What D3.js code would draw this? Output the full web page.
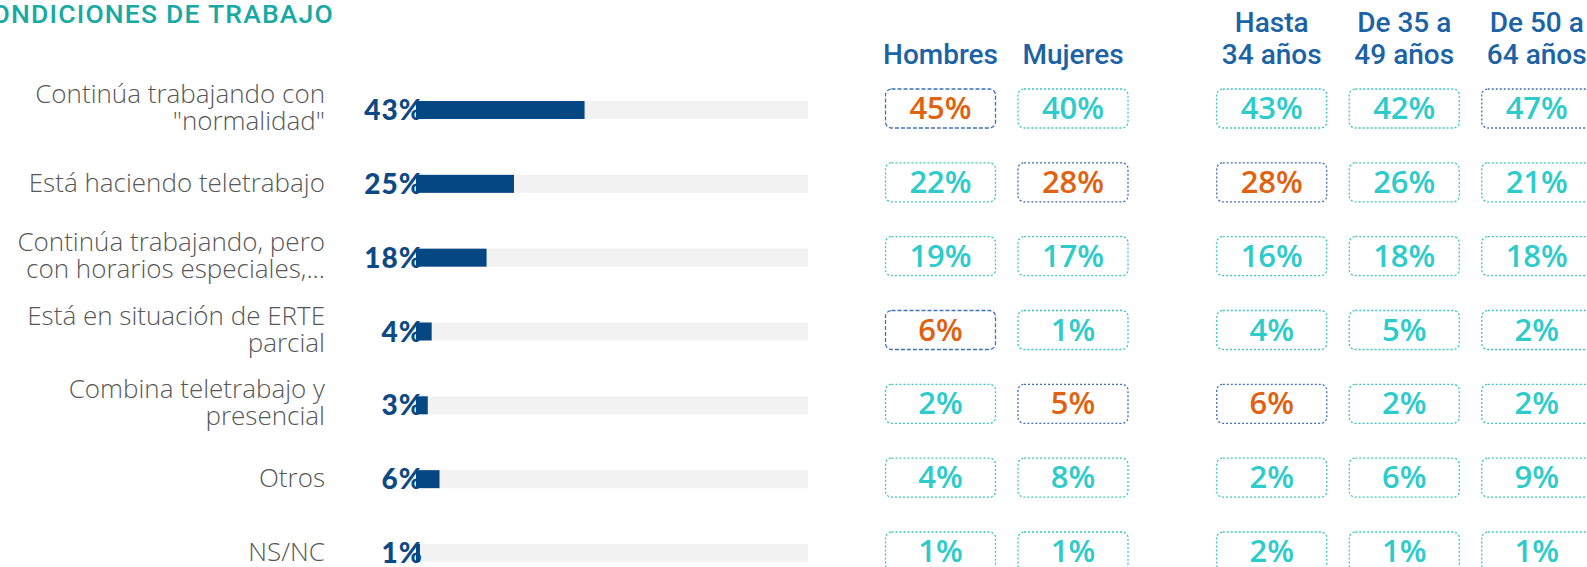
<!DOCTYPE html>
<html>
<head>
<meta charset="utf-8">
<script src="https://cdn.jsdelivr.net/npm/d3@7"></script>
<style>
  html, body { margin: 0; padding: 0; background: #fff; overflow: hidden; }
</style>
</head>
<body>
<div id="chart"></div>
<script>
var width = 1587;
var height = 567;

// rows
var categories = ["normalidad", "teletrabajo", "horarios", "erte", "combina", "otros", "nsnc"];
var labelLines = [
  ["Continúa trabajando con", "\"normalidad\""],
  ["Está haciendo teletrabajo"],
  ["Continúa trabajando, pero", "con horarios especiales,..."],
  ["Está en situación de ERTE", "parcial"],
  ["Combina teletrabajo y", "presencial"],
  ["Otros"],
  ["NS/NC"]
];
var totals = [43, 25, 18, 4, 3, 6, 1];

// breakdown columns
var columnHeaders = [["Hombres"], ["Mujeres"], ["Hasta", "34 años"], ["De 35 a", "49 años"], ["De 50 a", "64 años"]];
var hombres = [45, 22, 19, 6, 2, 4, 1];
var mujeres = [40, 28, 17, 1, 5, 8, 1];
var hasta34 = [43, 28, 16, 4, 6, 2, 2];
var de35a49 = [42, 26, 18, 5, 2, 6, 1];
var de50a64 = [47, 21, 18, 2, 2, 9, 1];
// cells shown in orange and cells with a blue frame: [column, row]
var orangeCells = [[0, 0], [0, 3], [1, 1], [1, 4], [2, 1], [2, 4]];
var blueFrames = [[0, 0], [0, 3], [1, 1], [1, 4], [2, 1], [2, 4], [4, 0]];
var columns = [hombres, mujeres, hasta34, de35a49, de50a64];
var columnSlot = [0, 1, 2.5, 3.5, 4.5]; // gap between sex and age groups

var svg = d3.select("#chart").append("svg")
  .attr("width", width)
  .attr("height", height);

var x = d3.scaleLinear().domain([0, 100]).range([416, 808]);
var y = d3.scalePoint().domain(categories).range([110, 553]);
var col = d3.scaleLinear().domain([0, 1]).range([940.5, 1073]);
var barH = 18;

function has(list, c, r) {
  return list.some(function(p) { return p[0] === c && p[1] === r; });
}

// title (cut off on the left like the original)
svg.append("text")
  .attr("x", 334)
  .attr("y", 23)
  .attr("text-anchor", "end")
  .style("font-family", "Roboto, sans-serif")
  .style("font-weight", 500)
  .style("font-size", "26.5px")
  .style("letter-spacing", "1.2px")
  .style("fill", "#17a9a2")
  .text("CONDICIONES DE TRABAJO");

// row labels
var rows = svg.append("g").selectAll("g")
  .data(categories)
  .enter().append("g");

rows.append("text")
  .attr("text-anchor", "end")
  .style("font-family", "'Open Sans', sans-serif")
  .style("font-weight", 300)
  .style("font-size", "26px")
  .style("fill", "#575757")
  .each(function(d, i) {
    var lines = labelLines[i];
    var cy = y(d);
    d3.select(this).selectAll("tspan")
      .data(lines)
      .enter().append("tspan")
      .attr("x", 325)
      .attr("y", function(l, j) {
        return lines.length === 1 ? cy + 8 : cy - 7 + j * 27;
      })
      .text(function(l) { return l; });
  });

// track
rows.append("rect")
  .attr("x", x(0))
  .attr("y", function(d) { return y(d) - barH / 2; })
  .attr("width", x(100) - x(0))
  .attr("height", barH)
  .style("fill", "#f2f2f2");

// total labels
rows.append("text")
  .attr("x", 423)
  .attr("y", function(d) { return y(d) + 10; })
  .attr("text-anchor", "end")
  .style("font-family", "Lato, sans-serif")
  .style("font-weight", 900)
  .style("font-size", "28px")
  .style("letter-spacing", "1px")
  .style("fill", "#0d4a85")
  .text(function(d, i) { return totals[i] + "%"; });

// bars
rows.append("rect")
  .attr("x", x(0))
  .attr("y", function(d) { return y(d) - barH / 2; })
  .attr("width", function(d, i) { return x(totals[i]) - x(0); })
  .attr("height", barH)
  .style("fill", "#044783");

// column headers
svg.append("g").selectAll("text")
  .data(columnHeaders)
  .enter().append("text")
  .attr("text-anchor", "middle")
  .style("font-family", "Roboto, sans-serif")
  .style("font-weight", 500)
  .style("font-size", "28px")
  .style("fill", "#1c63a6")
  .each(function(lines, c) {
    d3.select(this).selectAll("tspan")
      .data(lines)
      .enter().append("tspan")
      .attr("x", col(columnSlot[c]))
      .attr("y", function(l, j) { return 64 - (lines.length - 1 - j) * 32; })
      .text(function(l) { return l; });
  });

// value boxes
var boxW = 110, boxH = 39;
columns.forEach(function(values, c) {
  var cx = col(columnSlot[c]);
  var g = svg.append("g").selectAll("g")
    .data(values)
    .enter().append("g");

  g.append("rect")
    .attr("x", cx - boxW / 2)
    .attr("y", function(v, r) { return y(categories[r]) - 1.5 - boxH / 2; })
    .attr("width", boxW)
    .attr("height", boxH)
    .attr("rx", 6)
    .style("fill", "none")
    .style("stroke", function(v, r) { return has(blueFrames, c, r) ? "#3d72b4" : "#3cc3c3"; })
    .style("stroke-width", 1.3)
    .style("stroke-dasharray", function(v, r) {
      return has(blueFrames, c, r) && c === 0 ? "4,2" : "2,2";
    });

  g.append("text")
    .attr("x", cx)
    .attr("y", function(v, r) { return y(categories[r]) + 9; })
    .attr("text-anchor", "middle")
    .style("font-family", "'Open Sans', sans-serif")
    .style("font-weight", 600)
    .style("font-size", "31px")
    .style("fill", function(v, r) { return has(orangeCells, c, r) ? "#e0620f" : "#2ecbcb"; })
    .text(function(v) { return v + "%"; });
});
</script>
</body>
</html>
